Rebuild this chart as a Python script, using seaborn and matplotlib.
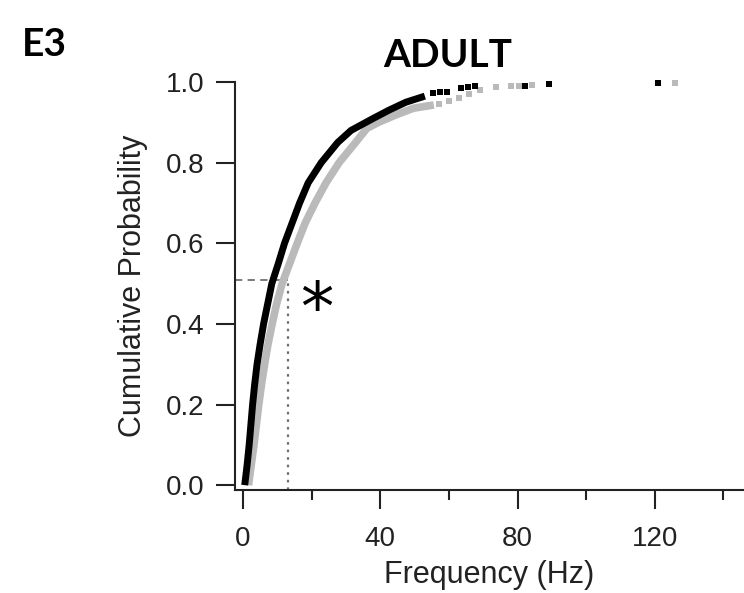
import numpy as np
import pandas as pd
import matplotlib
matplotlib.use("Agg")
import matplotlib.pyplot as plt
import seaborn as sns
from matplotlib.ticker import MultipleLocator, FormatStrFormatter

# cumulative curves (frequency in Hz, cumulative probability)
black_prob = [0.0, 0.05, 0.1, 0.15, 0.2, 0.25, 0.3, 0.35, 0.4, 0.45, 0.5, 0.55, 0.6,
              0.65, 0.7, 0.75, 0.8, 0.85, 0.88, 0.91, 0.93, 0.95, 0.965]
black_freq = [0.5, 1.2, 1.8, 2.3, 2.8, 3.4, 4.1, 5.0, 6.0, 7.2, 8.4, 10.3, 12.1,
              14.3, 16.5, 19.0, 22.8, 27.6, 31.5, 38.0, 42.5, 47.5, 53.0]
gray_prob = [0.0, 0.05, 0.1, 0.15, 0.2, 0.25, 0.3, 0.35, 0.4, 0.45, 0.5, 0.55, 0.6,
             0.65, 0.7, 0.75, 0.8, 0.85, 0.885, 0.9, 0.92, 0.935, 0.943]
gray_freq = [1.6, 2.4, 3.2, 3.9, 4.6, 5.4, 6.3, 7.3, 8.5, 9.8, 11.4, 13.6, 15.8,
             18.1, 21.0, 24.2, 28.0, 32.8, 36.1, 39.5, 45.0, 49.7, 55.6]

# sparse points in the upper tail
black_tail_freq = [55.5, 57.5, 59.5, 63.5, 65.5, 67.5, 82.3, 89.1, 120.8]
black_tail_prob = [0.972, 0.974, 0.976, 0.985, 0.987, 0.989, 0.991, 0.995, 0.998]
gray_tail_freq = [57.0, 60.0, 62.9, 66.0, 69.0, 73.6, 78.0, 80.5, 84.3, 126.0]
gray_tail_prob = [0.945, 0.952, 0.96, 0.97, 0.98, 0.988, 0.99, 0.99, 0.993, 0.997]

median_freq = 13.0
median_prob = 0.51

BLACK = "#000000"
GRAY = "#bababa"
GUIDE = "#707070"
TEXT = "#222222"

sns.set_style("ticks")
plt.rcParams["font.family"] = ["Liberation Sans", "DejaVu Sans"]

fig = plt.figure(figsize=(7.44, 5.93), dpi=100)
ax = fig.add_axes([0.316, 0.1737, 0.684, 0.688])

black_df = pd.DataFrame({"freq": black_freq, "prob": black_prob})
gray_df = pd.DataFrame({"freq": gray_freq, "prob": gray_prob})

sns.lineplot(data=gray_df, x="freq", y="prob", color=GRAY, linewidth=5.5, sort=False,
             solid_capstyle="butt", solid_joinstyle="round", ax=ax, zorder=2)
sns.lineplot(data=black_df, x="freq", y="prob", color=BLACK, linewidth=5, sort=False,
             solid_capstyle="butt", solid_joinstyle="round", ax=ax, zorder=3)
sns.scatterplot(x=gray_tail_freq, y=gray_tail_prob, color=GRAY, marker="s", s=22,
                linewidth=0, ax=ax, zorder=2, clip_on=False)
sns.scatterplot(x=black_tail_freq, y=black_tail_prob, color=BLACK, marker="s", s=20,
                linewidth=0, ax=ax, zorder=3, clip_on=False)

# median guide lines
ax.plot([-2.3, median_freq], [median_prob, median_prob], color=GUIDE, lw=1.3,
        ls=(0, (4, 3)), zorder=1)
ax.plot([median_freq, median_freq], [-0.012, median_prob], color=GUIDE, lw=1.6,
        ls=(0, (1.2, 2.2)), zorder=1)
ax.text(21.5, 0.432, "*", fontsize=48, ha="center", va="center",
        color=BLACK, family="DejaVu Sans")

ax.set_xlim(-2.3, 146)
ax.set_ylim(-0.012, 1.0)
ax.xaxis.set_major_locator(MultipleLocator(40))
ax.xaxis.set_minor_locator(MultipleLocator(20))
ax.yaxis.set_major_locator(MultipleLocator(0.2))
ax.yaxis.set_major_formatter(FormatStrFormatter("%.1f"))

sns.despine(ax=ax)
for side in ["left", "bottom"]:
    ax.spines[side].set_linewidth(1.5)
    ax.spines[side].set_color(TEXT)
ax.tick_params(axis="y", direction="out", length=14, width=1.5, labelsize=20, pad=8,
               colors=TEXT)
ax.tick_params(axis="x", which="major", direction="out", length=14, width=1.5,
               labelsize=20, pad=12, colors=TEXT)
ax.tick_params(axis="x", which="minor", direction="out", length=7, width=1.5,
               colors=TEXT)

ax.set_xlabel("Frequency (Hz)", fontsize=22, labelpad=6, color=TEXT)
ax.set_ylabel("Cumulative Probability", fontsize=22, labelpad=13, color=TEXT)

fig.text(0.602, 0.907, "ADULT", fontsize=28, fontweight="bold", ha="center",
         va="center", family="Lato", color="black")
fig.text(0.03, 0.925, "E3", fontsize=28, fontweight="bold", ha="left",
         va="center", family="Lato", color="black")

fig.savefig("out.png", dpi=100)
